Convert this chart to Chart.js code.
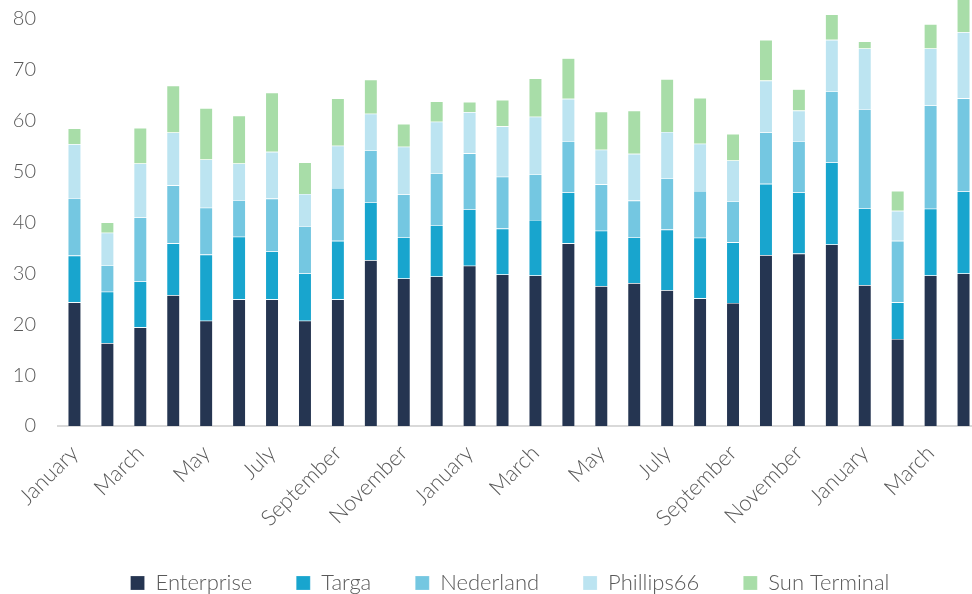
<!DOCTYPE html>
<html>
<head>
<meta charset="utf-8">
<script src="https://cdn.jsdelivr.net/npm/chart.js@4.4.1/dist/chart.umd.min.js"></script>
<style>
  html, body { margin: 0; padding: 0; background: #fff; overflow: hidden; }
  #wrap { width: 1020px; height: 594px; position: relative; }
</style>
</head>
<body>
<div id="wrap"><canvas id="terminal-chart"></canvas></div>
<script>
const months = [
  "January", "February", "March", "April", "May", "June", "July", "August", "September", "October", "November", "December",
  "January", "February", "March", "April", "May", "June", "July", "August", "September", "October", "November", "December",
  "January", "February", "March", "April"
];

const enterprise  = [24.3, 16.3, 19.4, 25.7, 20.7, 24.9, 24.9, 20.7, 24.9, 32.6, 29.0, 29.4, 31.5, 29.8, 29.6, 35.9, 27.5, 28.1, 26.7, 25.1, 24.2, 33.6, 33.9, 35.7, 27.7, 17.1, 29.6, 30.0];
const targa       = [ 9.2, 10.1,  9.0, 10.2, 13.0, 12.3,  9.4,  9.3, 11.5, 11.4,  8.1, 10.1, 11.1,  9.0, 10.9, 10.0, 10.9,  9.0, 11.9, 11.9, 11.9, 14.0, 12.0, 16.1, 15.1,  7.2, 13.1, 16.1];
const nederland   = [11.3,  5.2, 12.6, 11.4,  9.2,  7.2, 10.4,  9.3, 10.4, 10.2,  8.4, 10.2, 11.0, 10.2,  9.0, 10.1,  9.1,  7.2, 10.1,  9.2,  8.1, 10.1, 10.1, 14.0, 19.5, 12.1, 20.3, 18.3];
const phillips66  = [10.6,  6.4, 10.6, 10.4,  9.5,  7.2,  9.2,  6.3,  8.3,  7.2,  9.4, 10.1,  8.1,  9.9, 11.3,  8.3,  6.8,  9.2,  9.1,  9.3,  8.0, 10.2,  6.0, 10.1, 11.9,  5.9, 11.2, 13.0];
const sunTerminal = [ 3.1,  2.0,  7.0,  9.2, 10.1,  9.4, 11.6,  6.2,  9.3,  6.7,  4.5,  4.0,  2.0,  5.2,  7.5,  8.0,  7.5,  8.5, 10.4,  9.0,  5.2,  8.0,  4.2,  5.0,  1.4,  3.9,  4.8,  7.0];

const textColor = "#595959";
const fontFamily = "Lato, 'Open Sans', sans-serif";

function makeSet(label, data, color) {
  return {
    label: label,
    data: data,
    backgroundColor: color,
    borderColor: "rgba(255,255,255,0.35)",
    borderWidth: 0.6,
    barPercentage: 0.8,
    categoryPercentage: 0.5,
    clip: false
  };
}

// the legend sits centred on the full (uncropped) width, not the plot
const shiftLegend = {
  id: "shiftLegend",
  afterLayout: function (chart) {
    chart.legend.left += 20;
    chart.legend.right += 20;
  }
};

new Chart("terminal-chart", {
  type: "bar",
  data: {
    labels: months,
    datasets: [
      makeSet("Enterprise", enterprise, "#253551"),
      makeSet("Targa", targa, "#18a5ce"),
      makeSet("Nederland", nederland, "#74c7e1"),
      makeSet("Phillips66", phillips66, "#bce4f1"),
      makeSet("Sun Terminal", sunTerminal, "#a8dda8")
    ]
  },
  plugins: [shiftLegend],
  options: {
    responsive: true,
    maintainAspectRatio: false,
    animation: false,
    layout: {
      padding: { top: 19, right: 40, bottom: -10, left: 0 }
    },
    plugins: {
      tooltip: { enabled: false },
      legend: {
        position: "bottom",
        labels: {
          color: textColor,
          font: { family: fontFamily, size: 22, weight: 300 },
          boxWidth: 14,
          boxHeight: 14,
          padding: 44
        }
      }
    },
    scales: {
      x: {
        stacked: true,
        grid: { display: false, drawTicks: false },
        border: { display: true, color: "#d9d9d9", width: 2 },
        ticks: {
          color: textColor,
          font: { family: fontFamily, size: 22, weight: 300 },
          autoSkip: false,
          maxRotation: 45,
          minRotation: 45,
          padding: 14,
          callback: function (value, index) {
            return index % 2 === 0 ? this.getLabelForValue(value) : "";
          }
        },
        afterFit: function (scale) { scale.height = 102; }
      },
      y: {
        stacked: true,
        min: 0,
        max: 80,
        grid: { display: false, drawTicks: false },
        border: { display: false },
        ticks: {
          stepSize: 10,
          color: textColor,
          font: { family: fontFamily, size: 20, weight: 300 },
          padding: 22
        },
        afterFit: function (scale) {
          scale.width = 58;
          scale.paddingTop = 0;
          scale.paddingBottom = 0;
        }
      }
    }
  }
});
</script>
</body>
</html>
